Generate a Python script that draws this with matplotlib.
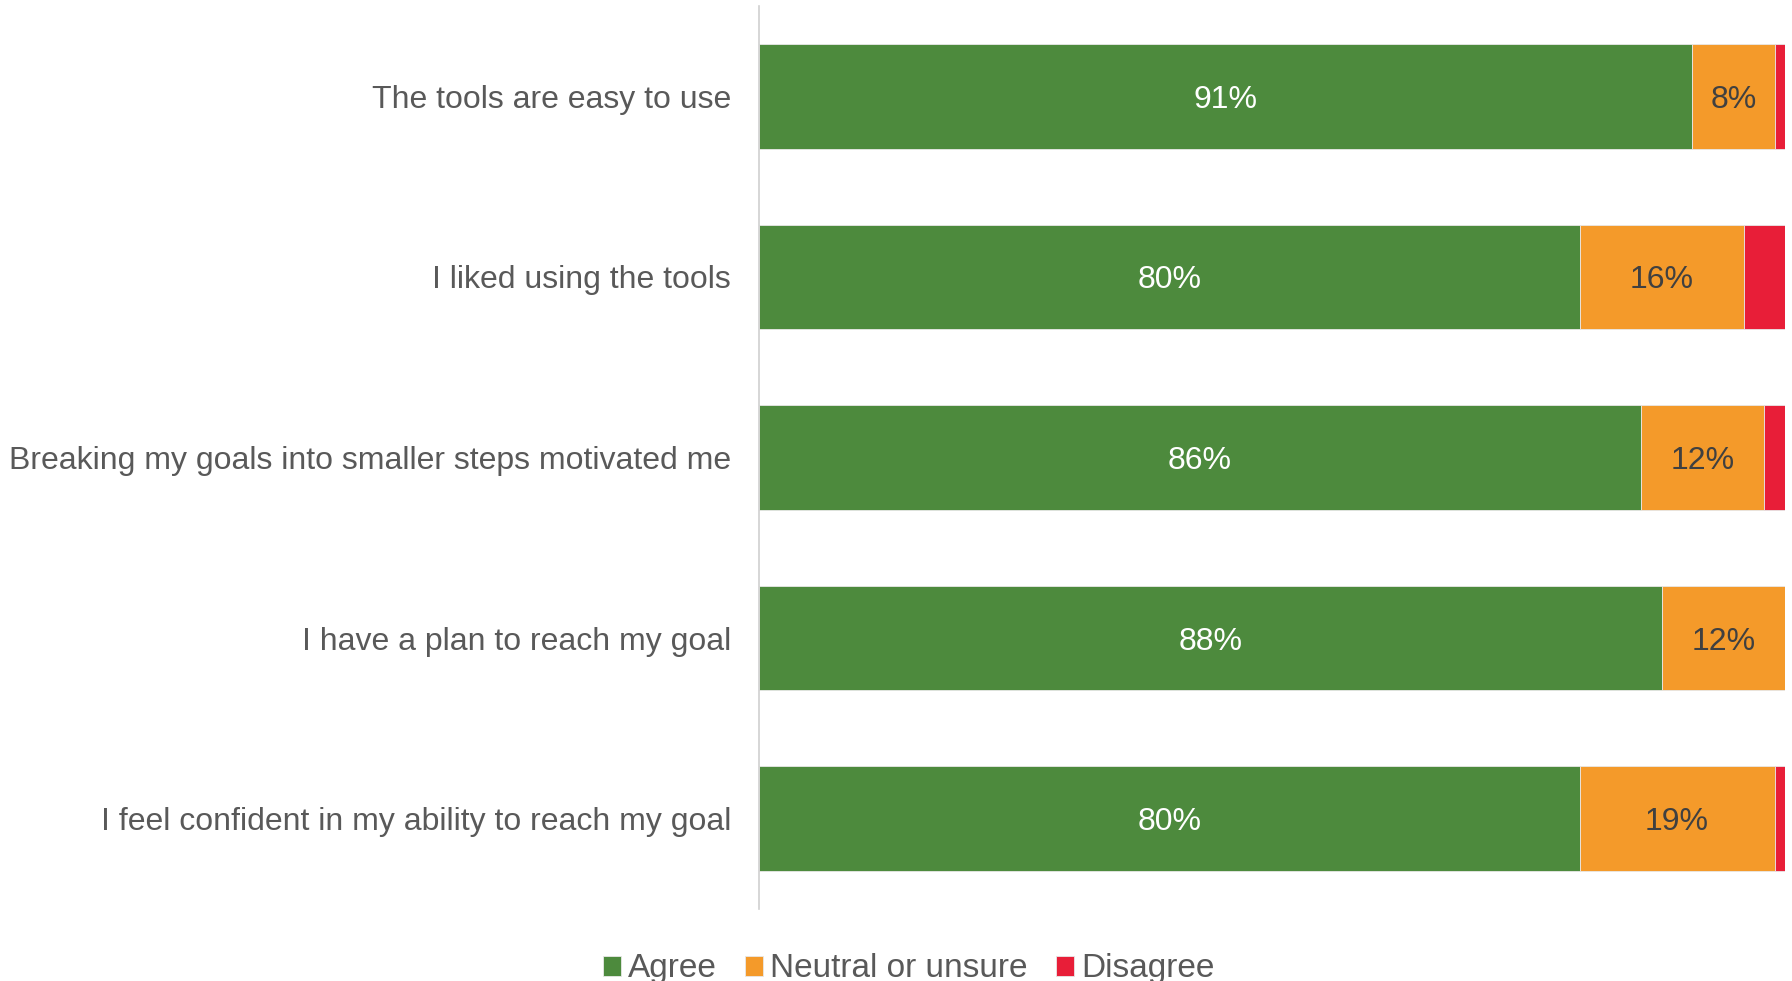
import matplotlib.pyplot as plt
import numpy as np

plt.rcParams['font.family'] = ['Liberation Sans', 'DejaVu Sans']

categories = [
    "The tools are easy to use",
    "I liked using the tools",
    "Breaking my goals into smaller steps motivated me",
    "I have a plan to reach my goal",
    "I feel confident in my ability to reach my goal",
]
agree = [91, 80, 86, 88, 80]
neutral = [8, 16, 12, 12, 19]
disagree = [1, 4, 2, 0, 1]

series = [("Agree", agree, "#4D8A3D"),
          ("Neutral or unsure", neutral, "#F49A2A"),
          ("Disagree", disagree, "#E81E38")]

fig = plt.figure(figsize=(17.92, 9.81), dpi=100)
ax = fig.add_axes([0.4235, 0.0734, 0.5725, 0.9205])

y = np.arange(len(categories))
left = np.zeros(len(categories))
for name, vals, col in series:
    vals = np.array(vals, dtype=float)
    ax.barh(y, vals, left=left, height=0.58, color=col, label=name,
            edgecolor="#E8E8E8", linewidth=0.6)
    if name != "Disagree":
        txtcol = "white" if name == "Agree" else "#404040"
        for yi, l, v in zip(y, left, vals):
            if v > 0:
                ax.text(l + v / 2, yi + 0.02, f"{int(v)}%", ha="center", va="center",
                        fontsize=23, color=txtcol)
    left += vals

ax.set_xlim(0, 100)
ax.set_ylim(len(categories) - 0.5, -0.5)
ax.set_yticks(y)
ax.set_yticklabels(categories, fontsize=23, color="#595959")
ax.tick_params(axis="y", length=0, pad=20)
ax.set_xticks([])
for s in ["top", "right", "bottom"]:
    ax.spines[s].set_visible(False)
ax.spines["left"].set_color("#D0D0D0")
ax.spines["left"].set_linewidth(1.2)

fig.legend(loc="lower center", bbox_to_anchor=(0.507, -0.034), ncol=3, frameon=False,
           fontsize=24, handlelength=0.55, handleheight=0.55, handletextpad=0.2,
           columnspacing=0.85, labelcolor="#595959")

plt.savefig("out.png", dpi=100)
